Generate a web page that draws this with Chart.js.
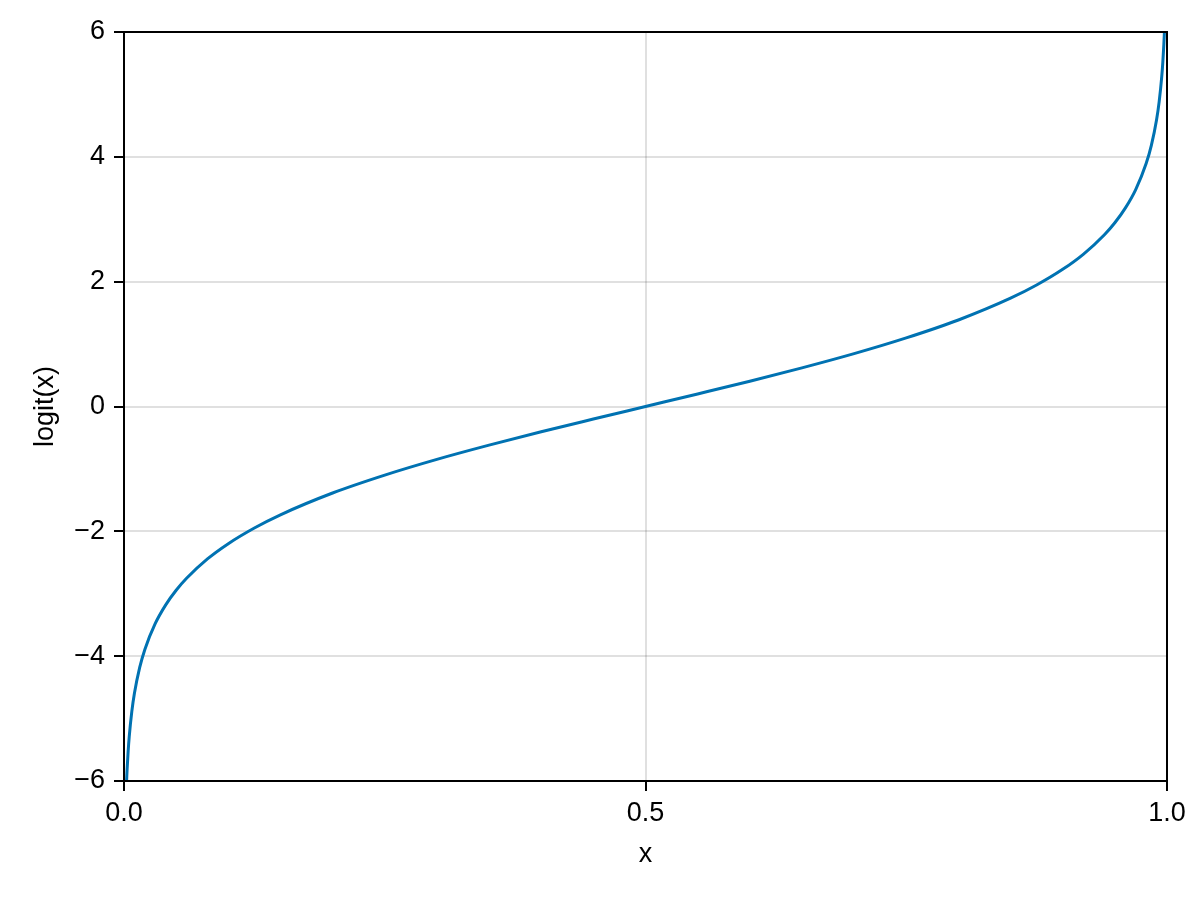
<!DOCTYPE html>
<html>
<head>
<meta charset="utf-8">
<script src="https://cdn.jsdelivr.net/npm/chart.js@4.4.1/dist/chart.umd.min.js"></script>
<style>
html,body{margin:0;padding:0;background:#fff;}
#wrap{width:1200px;height:900px;position:relative;}
</style>
</head>
<body>
<div id="wrap"><canvas id="c" width="1200" height="900"></canvas></div>
<script>
// Values
const xValues = [0.0025, 0.003, 0.004, 0.005, 0.0075, 0.01, 0.015, 0.02, 0.03, 0.04, 0.05, 0.06, 0.08, 0.1, 0.125, 0.15, 0.2, 0.25, 0.3, 0.35, 0.4, 0.45, 0.5,
                 0.55, 0.6, 0.65, 0.7, 0.75, 0.8, 0.85, 0.875, 0.9, 0.92, 0.94, 0.95, 0.96, 0.97, 0.98, 0.985, 0.99, 0.9925, 0.995, 0.996, 0.997, 0.9975];
const yValues = [-5.989, -5.806, -5.517, -5.293, -4.885, -4.595, -4.185, -3.892, -3.476, -3.178, -2.944, -2.752, -2.442, -2.197, -1.946, -1.735, -1.386, -1.099, -0.847, -0.619, -0.405, -0.201, 0,
                 0.201, 0.405, 0.619, 0.847, 1.099, 1.386, 1.735, 1.946, 2.197, 2.442, 2.752, 2.944, 3.178, 3.476, 3.892, 4.185, 4.595, 4.885, 5.293, 5.517, 5.806, 5.989];
const xTicks = [0.0, 0.5, 1.0];
const yTicks = [-6, -4, -2, 0, 2, 4, 6];
const xTitle = 'x';
const yTitle = 'logit(x)';

const FONT = '"Liberation Sans", Arial, sans-serif';
const points = xValues.map((x, i) => ({x: x, y: yValues[i]}));

const framePlugin = {
  id: 'frame',
  afterDraw(chart) {
    const {ctx, chartArea: a} = chart;
    ctx.save();
    ctx.strokeStyle = '#000';
    ctx.lineWidth = 2;
    ctx.strokeRect(a.left, a.top, a.right - a.left, a.bottom - a.top);
    ctx.restore();
  }
};

new Chart(document.getElementById('c'), {
  type: 'line',
  data: {
    datasets: [{
      data: points,
      borderColor: '#0072B2',
      borderWidth: 3,
      pointRadius: 0,
      fill: false,
      cubicInterpolationMode: 'monotone'
    }]
  },
  options: {
    responsive: false,
    animation: false,
    devicePixelRatio: 1,
    layout: {padding: {top: 32, right: 33, bottom: 0, left: 0}},
    plugins: {legend: {display: false}, tooltip: {enabled: false}},
    scales: {
      x: {
        type: 'linear',
        min: 0, max: 1,
        afterFit(s) { s.height = 119; },
        afterBuildTicks(s) { s.ticks = xTicks.map(v => ({value: v})); },
        ticks: {
          color: '#000',
          font: {family: FONT, size: 27},
          padding: 6,
          maxRotation: 0,
          callback: v => v.toFixed(1)
        },
        grid: {
          color: 'rgba(0,0,0,0.12)',
          lineWidth: 2,
          tickColor: '#000',
          tickLength: 10,
          tickWidth: 2
        },
        border: {display: false},
        title: {
          display: true, text: xTitle, color: '#000',
          font: {family: FONT, size: 27},
          padding: {top: 0, bottom: 29}
        }
      },
      y: {
        type: 'linear',
        min: -6, max: 6,
        afterFit(s) { s.width = 124; },
        afterBuildTicks(s) { s.ticks = yTicks.map(v => ({value: v})); },
        ticks: {
          color: '#000',
          font: {family: FONT, size: 27},
          padding: 9,
          callback: v => (v < 0 ? '\u2212' + Math.abs(v) : String(v))
        },
        grid: {
          color: 'rgba(0,0,0,0.12)',
          lineWidth: 2,
          tickColor: '#000',
          tickLength: 10,
          tickWidth: 2
        },
        border: {display: false},
        title: {
          display: true, text: yTitle, color: '#000',
          font: {family: FONT, size: 27},
          padding: {top: 29, bottom: 0}
        }
      }
    }
  },
  plugins: [framePlugin]
});
</script>
</body>
</html>
